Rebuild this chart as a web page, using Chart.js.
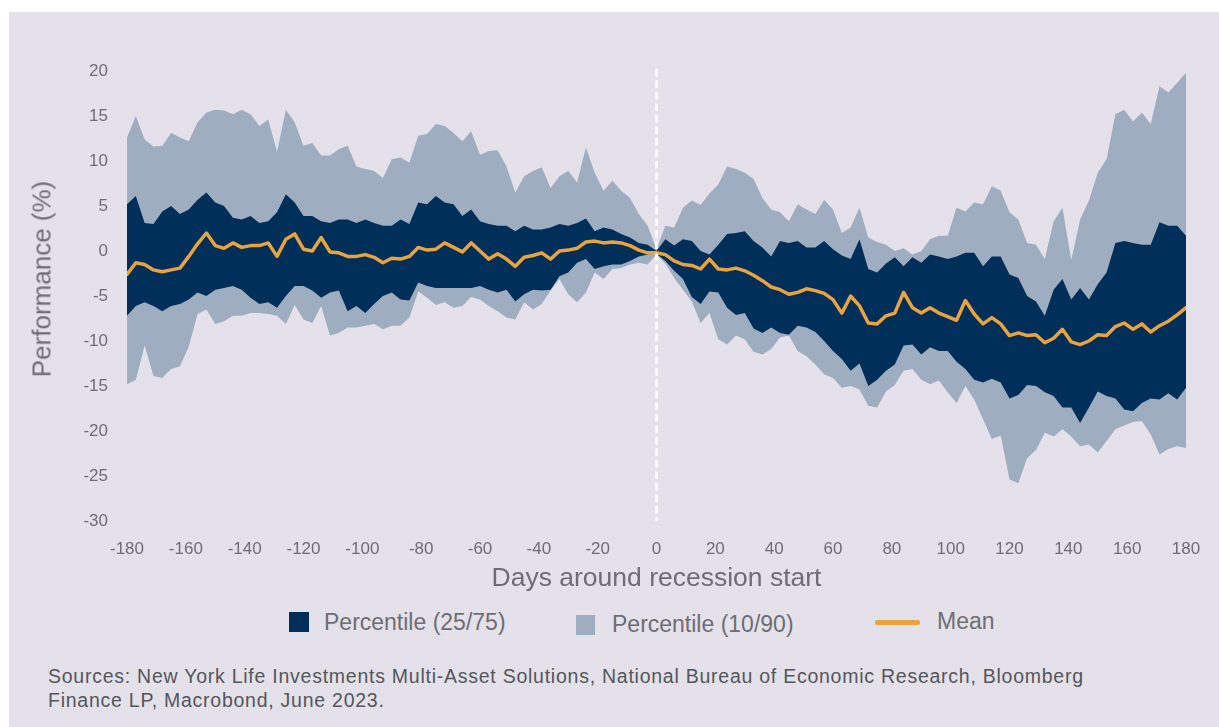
<!DOCTYPE html>
<html>
<head>
<meta charset="utf-8">
<script src="https://cdn.jsdelivr.net/npm/chart.js@4.4.0/dist/chart.umd.min.js"></script>
<style>
  html, body { margin: 0; padding: 0; background: #ffffff; width: 1219px; height: 727px; overflow: hidden; }
  #panel { position: absolute; left: 9px; top: 12px; width: 1210px; height: 715px; background: #e4e1eb; font-family: "Liberation Sans", Arial, sans-serif; }
  #chartWrap { position: absolute; left: 0; top: 0; width: 1210px; height: 590px; }
  #ytitle { position: absolute; left: 33px; top: 267px; transform: translate(-50%, -50%) rotate(-90deg); white-space: nowrap; font-size: 26px; color: #6d6e72; }
  .leg { position: absolute; font-size: 23px; color: #6d6e72; white-space: nowrap; line-height: 26px; }
  .sw { position: absolute; }
  #source { position: absolute; left: 39px; top: 652px; font-size: 19.5px; letter-spacing: 0.75px; line-height: 24px; color: #55565a; white-space: nowrap; }
</style>
</head>
<body>
<div id="panel">
  <div id="chartWrap"><canvas id="c" width="1210" height="590"></canvas></div>
  <div id="ytitle">Performance (%)</div>
  <div class="sw" style="left:280px; top:600px; width:20px; height:20px; background:#002f5a;"></div>
  <div class="leg" style="left:315px; top:597px;">Percentile (25/75)</div>
  <div class="sw" style="left:567px; top:603px; width:19px; height:20px; background:#9eaec0;"></div>
  <div class="leg" style="left:603px; top:599px;">Percentile (10/90)</div>
  <div class="sw" style="left:866px; top:608px; width:45px; height:5px; border-radius:2px; background:#e9a43f;"></div>
  <div class="leg" style="left:928px; top:596px;">Mean</div>
  <div id="source">Sources: New York Life Investments Multi-Asset Solutions, National Bureau of Economic Research, Bloomberg<br>Finance LP, Macrobond, June 2023.</div>
</div>
<script>
// Days around recession start (every 3 days)
const days = Array.from({length: 121}, (_, i) => -180 + 3 * i);

const xTicks = [-180,-160,-140,-120,-100,-80,-60,-40,-20,0,20,40,60,80,100,120,140,160,180];
const yTicks = [-30,-25,-20,-15,-10,-5,0,5,10,15,20];

const p90 = [
  12.6, 15.0, 12.4, 11.6, 11.7, 13.1, 12.6, 12.2, 14.3, 15.4, 15.7, 15.6, 15.2, 15.7, 15.2, 13.9, 14.6, 11.0, 15.7, 14.3, 11.7, 12.0, 10.6, 10.6, 11.3, 11.7, 9.4, 9.1, 8.9, 8.1,
  10.2, 10.4, 9.8, 12.8, 13.0, 14.1, 13.9, 13.1, 12.2, 13.3, 10.7, 11.1, 11.2, 9.4, 6.5, 8.3, 8.9, 9.3, 7.0, 8.3, 8.9, 7.6, 11.5, 8.7, 6.7, 7.8, 6.7, 5.9, 4.1, 2.8, 0.2,
  2.8, 2.6, 4.8, 5.6, 5.1, 6.4, 7.4, 9.4, 9.1, 8.7, 8.0, 5.9, 4.6, 4.3, 3.3, 5.2, 4.6, 4.1, 5.7, 4.6, 2.0, 2.6, 4.8, 1.5, 1.0, 0.7, 0.0, 0.3, -0.4, 0.0,
  1.3, 1.7, 1.7, 4.8, 4.4, 5.4, 5.2, 7.2, 6.7, 4.3, 3.5, 0.9, 0.7, -0.9, 3.3, 4.8, -1.0, 3.5, 5.6, 8.7, 10.2, 15.2, 15.7, 14.4, 15.4, 14.1, 18.3, 17.6, 18.7, 19.8
];
const p75 = [
  5.2, 6.1, 3.1, 3.0, 4.4, 5.0, 4.1, 4.6, 5.7, 6.5, 5.4, 5.0, 3.7, 3.5, 3.9, 3.1, 3.3, 4.3, 6.3, 5.4, 3.9, 3.9, 3.3, 3.1, 3.5, 3.5, 3.1, 3.5, 3.1, 2.8,
  2.8, 3.5, 3.0, 5.4, 5.2, 6.1, 5.4, 5.2, 3.9, 4.6, 3.3, 3.0, 2.8, 2.8, 2.2, 2.8, 2.4, 2.4, 2.6, 3.0, 2.8, 3.1, 3.6, 2.2, 2.6, 2.4, 1.9, 1.5, 0.9, 0.7, 0.0,
  1.3, 0.6, 1.3, 1.1, 0.0, -0.4, 0.7, 1.9, 2.0, 2.2, 1.1, 0.4, -0.6, 1.1, 0.9, 1.1, 0.4, 0.4, 1.1, 0.2, -0.5, -0.9, 1.3, -2.0, -2.4, -1.4, -0.7, -1.7, -0.7, -1.3,
  -0.4, -0.6, -0.9, -0.6, -0.2, -0.2, -1.7, -0.6, -0.6, -2.6, -3.0, -5.0, -5.6, -7.2, -4.3, -3.1, -5.4, -4.1, -5.4, -3.7, -2.4, 0.9, 1.1, 0.9, 0.7, 0.7, 3.2, 2.8, 2.8, 1.7
];
const meanPerf = [
  -2.6, -1.3, -1.5, -2.1, -2.3, -2.1, -1.9, -0.6, 0.8, 2.0, 0.6, 0.3, 0.9, 0.4, 0.6, 0.6, 0.9, -0.6, 1.3, 1.9, 0.2, 0.0, 1.5, -0.1, -0.2, -0.6, -0.6, -0.4, -0.7, -1.3,
  -0.8, -0.9, -0.6, 0.4, 0.1, 0.2, 0.9, 0.4, -0.1, 0.9, 0.0, -0.9, -0.3, -0.9, -1.7, -0.7, -0.5, -0.2, -0.9, 0.0, 0.1, 0.3, 1.0, 1.1, 0.9, 1.0, 0.9, 0.6, 0.1, -0.2, -0.2,
  -0.4, -1.1, -1.5, -1.6, -2.0, -0.9, -2.0, -2.1, -1.9, -2.2, -2.7, -3.3, -4.0, -4.3, -4.8, -4.6, -4.2, -4.4, -4.7, -5.4, -6.9, -5.0, -6.1, -8.0, -8.1, -7.2, -6.9, -4.6, -6.3, -6.9,
  -6.3, -6.9, -7.3, -7.7, -5.5, -7.0, -8.1, -7.4, -8.1, -9.4, -9.1, -9.4, -9.3, -10.2, -9.7, -8.7, -10.1, -10.4, -10.0, -9.3, -9.4, -8.4, -8.0, -8.7, -8.1, -9.0, -8.3, -7.8, -7.1, -6.3
];
const p25 = [
  -7.2, -6.1, -5.7, -6.1, -6.7, -6.1, -5.9, -5.4, -4.6, -5.0, -4.3, -4.1, -3.9, -4.3, -5.2, -5.9, -5.7, -6.3, -5.0, -3.9, -3.9, -4.4, -5.2, -4.6, -4.4, -6.7, -6.1, -6.9, -5.9, -5.0,
  -4.6, -5.4, -5.5, -3.5, -3.9, -4.1, -4.1, -4.1, -4.1, -4.1, -3.9, -4.3, -4.6, -4.3, -5.6, -4.8, -4.3, -4.4, -4.3, -2.8, -2.4, -1.3, -0.9, -2.0, -1.7, -1.5, -1.5, -1.1, -0.6, -0.4, -0.3,
  -1.1, -2.2, -3.1, -5.1, -5.9, -4.5, -4.6, -6.3, -7.1, -6.9, -8.6, -9.1, -8.5, -9.1, -9.3, -8.3, -8.5, -9.0, -10.0, -11.1, -12.0, -13.3, -12.5, -15.0, -14.3, -13.3, -12.6, -10.5, -10.4, -11.5,
  -10.7, -11.1, -11.1, -12.3, -13.1, -14.3, -14.6, -14.2, -14.6, -16.4, -16.0, -14.9, -15.0, -15.7, -16.1, -17.4, -17.4, -19.1, -17.4, -15.6, -16.1, -16.4, -17.6, -17.8, -16.9, -16.4, -16.5, -15.8, -16.5, -15.2
];
const p10 = [
  -14.8, -14.3, -10.5, -13.9, -14.1, -13.1, -12.8, -10.6, -7.0, -6.5, -8.1, -7.8, -7.2, -7.2, -6.9, -6.9, -7.0, -7.2, -8.1, -6.0, -7.6, -8.0, -6.1, -9.4, -9.1, -8.5, -8.5, -8.3, -8.1, -8.7,
  -8.3, -8.3, -7.4, -4.5, -5.2, -6.0, -5.7, -6.3, -6.1, -5.1, -5.4, -6.1, -6.7, -7.4, -7.6, -5.7, -6.5, -5.9, -4.4, -3.1, -4.8, -5.7, -4.6, -2.4, -3.1, -2.0, -1.9, -1.5, -1.3, -1.5, -0.4,
  -1.4, -3.0, -4.3, -5.6, -8.0, -6.9, -9.8, -10.4, -9.4, -9.8, -11.2, -11.5, -10.9, -9.6, -9.4, -11.1, -11.7, -12.6, -13.7, -14.1, -15.2, -15.0, -15.4, -17.2, -17.4, -15.6, -14.9, -13.3, -13.1, -14.3,
  -14.8, -14.4, -15.7, -16.9, -15.0, -16.5, -18.7, -20.9, -20.5, -25.4, -25.8, -23.0, -22.1, -20.2, -20.6, -19.8, -20.6, -21.7, -21.5, -22.4, -21.1, -19.8, -19.4, -19.0, -18.9, -20.4, -22.6, -22.0, -21.7, -21.9
];

const DARK = '#002f5a', LIGHT = '#9eaec0', ORANGE = '#e9a43f', TEXT = '#6d6e72';

const zeroLine = {
  id: 'zeroLine',
  afterDatasetsDraw(chart) {
    const {ctx, chartArea, scales} = chart;
    const x = scales.x.getPixelForValue(0);
    ctx.save();
    ctx.strokeStyle = '#ffffff';
    ctx.lineWidth = 2.5;
    ctx.setLineDash([7.5, 4]);
    ctx.beginPath();
    ctx.moveTo(x, chartArea.top - 2);
    ctx.lineTo(x, chartArea.bottom);
    ctx.stroke();
    ctx.restore();
  }
};

new Chart(document.getElementById('c'), {
  type: 'line',
  data: {
    labels: days,
    datasets: [
      { label: 'Mean', data: meanPerf, borderColor: ORANGE, borderWidth: 3.5, pointRadius: 0, fill: false, order: 0, tension: 0, borderJoinStyle: 'round', borderCapStyle: 'round' },
      { label: 'Percentile (25/75)', data: p75, borderWidth: 0, borderColor: DARK, backgroundColor: DARK, pointRadius: 0, fill: 2, order: 1, tension: 0 },
      { label: 'p25', data: p25, borderWidth: 0, borderColor: DARK, pointRadius: 0, fill: false, order: 1, tension: 0 },
      { label: 'Percentile (10/90)', data: p90, borderWidth: 0, borderColor: LIGHT, backgroundColor: LIGHT, pointRadius: 0, fill: 4, order: 2, tension: 0 },
      { label: 'p10', data: p10, borderWidth: 0, borderColor: LIGHT, pointRadius: 0, fill: false, order: 2, tension: 0 }
    ]
  },
  options: {
    responsive: false,
    animation: false,
    events: [],
    layout: { padding: { left: 0, top: 59, right: 33, bottom: 0 } },
    plugins: { legend: { display: false }, tooltip: { enabled: false } },
    scales: {
      x: {
        type: 'linear', min: -180, max: 180,
        grid: { display: false, drawTicks: false },
        border: { display: false },
        afterBuildTicks: (s) => { s.ticks = xTicks.map(v => ({ value: v })); },
        afterFit: (s) => { s.height = 81; },
        ticks: { color: TEXT, font: { family: 'Liberation Sans', size: 17 }, padding: 18, maxRotation: 0, autoSkip: false },
        title: { display: true, text: 'Days around recession start', color: TEXT, font: { family: 'Liberation Sans', size: 26.5 }, padding: { top: 0, bottom: 7 } }
      },
      y: {
        min: -30, max: 20,
        grid: { display: false, drawTicks: false },
        border: { display: false },
        afterBuildTicks: (s) => { s.ticks = yTicks.map(v => ({ value: v })); },
        afterFit: (s) => { s.width = 118; },
        ticks: { color: TEXT, font: { family: 'Liberation Sans', size: 17 }, padding: 19, autoSkip: false }
      }
    }
  },
  plugins: [zeroLine]
});
</script>
</body>
</html>
